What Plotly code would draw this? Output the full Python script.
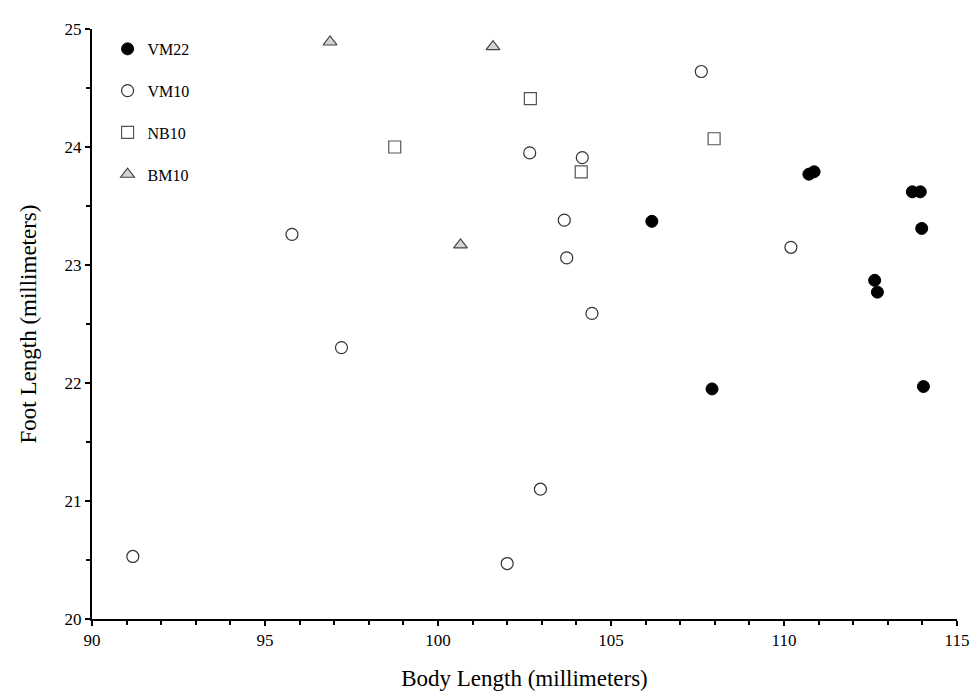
import plotly.graph_objects as go

# VM22
vm22_x = [106.18, 107.92, 110.72, 110.87, 113.71, 113.94, 113.98, 112.62, 112.70, 114.03]
vm22_y = [23.37, 21.95, 23.77, 23.79, 23.62, 23.62, 23.31, 22.87, 22.77, 21.97]
# VM10
vm10_x = [91.18, 95.78, 97.21, 102.00, 102.65, 102.96, 103.65, 103.72, 104.17, 104.45, 107.61, 110.20]
vm10_y = [20.53, 23.26, 22.30, 20.47, 23.95, 21.10, 23.38, 23.06, 23.91, 22.59, 24.64, 23.15]
# NB10
nb10_x = [98.75, 102.67, 104.14, 107.98]
nb10_y = [24.00, 24.41, 23.79, 24.07]
# BM10
bm10_x = [96.88, 101.59, 100.65]
bm10_y = [24.89, 24.85, 23.17]

FONT = "Liberation Serif"

fig = go.Figure()
fig.add_trace(go.Scatter(x=vm22_x, y=vm22_y, mode="markers", name="VM22", legendgroup="a",
                         marker=dict(symbol="circle", size=12, color="black",
                                     line=dict(color="black", width=1))))
fig.add_trace(go.Scatter(x=vm10_x, y=vm10_y, mode="markers", name="VM10", legendgroup="b",
                         marker=dict(symbol="circle", size=12, color="white",
                                     line=dict(color="#333333", width=1.2))))
fig.add_trace(go.Scatter(x=nb10_x, y=nb10_y, mode="markers", name="NB10", legendgroup="c",
                         marker=dict(symbol="square", size=12, color="white",
                                     line=dict(color="#555555", width=1.2))))
fig.add_trace(go.Scatter(x=bm10_x, y=bm10_y, mode="markers", name="BM10", legendgroup="d",
                         marker=dict(symbol="triangle-up", size=12, color="#d3d3d3",
                                     line=dict(color="#444444", width=1.2))))

axis_common = dict(
    showline=True, linecolor="black", linewidth=2,
    ticks="outside", tickcolor="black", ticklen=5, tickwidth=2,
    showgrid=False, zeroline=False, mirror=False,
    tickfont=dict(family=FONT, size=17, color="black"),
)

fig.update_xaxes(range=[90, 115], tick0=90, dtick=5,
                 minor=dict(dtick=1, ticks="outside", ticklen=4, tickcolor="black", tickwidth=1.5),
                 title=dict(text="Body Length (millimeters)", font=dict(family=FONT, size=23, color="black"),
                            standoff=20),
                 **axis_common)
fig.update_yaxes(range=[20, 25], tick0=20, dtick=1,
                 minor=dict(dtick=0.5, ticks="outside", ticklen=4, tickcolor="black", tickwidth=1.5),
                 title=dict(text="Foot Length (millimeters)", font=dict(family=FONT, size=23, color="black"),
                            standoff=22),
                 **axis_common)

fig.update_layout(
    width=979, height=691,
    margin=dict(l=84, r=30, t=15, b=78),
    plot_bgcolor="white", paper_bgcolor="white",
    font=dict(family=FONT, color="black"),
    legend=dict(x=0.018, y=0.995, xanchor="left", yanchor="top",
                font=dict(family=FONT, size=16, color="black"),
                tracegroupgap=18, bgcolor="rgba(0,0,0,0)", borderwidth=0),
)

fig.write_html("out.html")
